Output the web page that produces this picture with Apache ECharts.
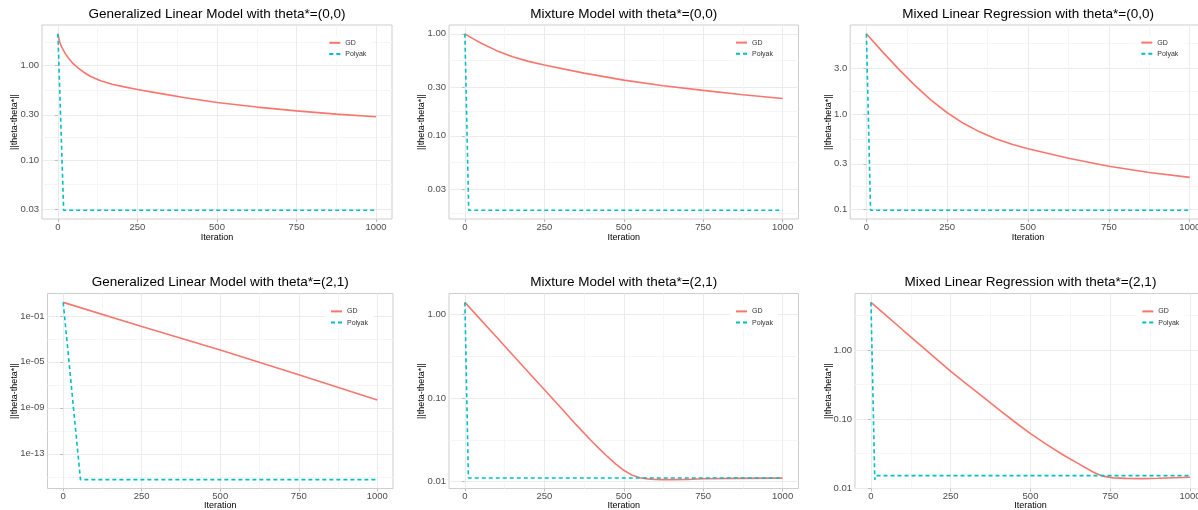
<!DOCTYPE html>
<html><head><meta charset="utf-8">
<script src="https://cdn.jsdelivr.net/npm/echarts@6/dist/echarts.min.js"></script>
<style>html,body{margin:0;padding:0;background:#fff}#c{width:1198px;height:510px}</style>
</head><body><div id="c"></div>
<script>
// ---------------- data ----------------
const titles = [
  'Generalized Linear Model with theta*=(0,0)',
  'Mixture Model with theta*=(0,0)',
  'Mixed Linear Regression with theta*=(0,0)',
  'Generalized Linear Model with theta*=(2,1)',
  'Mixture Model with theta*=(2,1)',
  'Mixed Linear Regression with theta*=(2,1)'
];
const seriesNames = ['GD', 'Polyak'];
const xName = 'Iteration';
const yName = '||theta-theta*||';
const xTicks = [0, 250, 500, 750, 1000];
const xMinor = [125, 375, 625, 875];

// Panel 1: GLM theta*=(0,0)
const glm00GDIter = [0, 5, 10, 22, 35, 48, 65, 79, 100, 132, 170, 205, 250, 320, 400, 500, 625, 750, 875, 1000];
const glm00GD     = [2.15, 1.80, 1.60, 1.35, 1.17, 1.04, 0.93, 0.855, 0.77, 0.69, 0.632, 0.595, 0.555, 0.505, 0.455, 0.405, 0.362, 0.33, 0.305, 0.286];
const glm00PIter  = [0, 18, 1000];
const glm00P      = [2.15, 0.0295, 0.0295];
// Panel 2: Mixture theta*=(0,0)
const mix00GDIter = [0, 25, 50, 100, 150, 200, 250, 375, 500, 625, 750, 875, 1000];
const mix00GD     = [1.0, 0.897, 0.813, 0.684, 0.596, 0.537, 0.494, 0.412, 0.352, 0.310, 0.279, 0.253, 0.232];
const mix00PIter  = [0, 12, 1000];
const mix00P      = [1.0, 0.0187, 0.0187];
// Panel 3: MLR theta*=(0,0)
const mlr00GDIter = [0, 50, 100, 150, 200, 250, 300, 350, 400, 450, 500, 625, 750, 875, 1000];
const mlr00GD     = [6.95, 4.49, 2.96, 2.0, 1.40, 1.03, 0.798, 0.649, 0.550, 0.481, 0.431, 0.342, 0.283, 0.243, 0.216];
const mlr00PIter  = [0, 13, 1000];
const mlr00P      = [6.95, 0.0976, 0.0976];
// Panel 4: GLM theta*=(2,1)
const glm21GDIter = [0, 250, 500, 750, 1000];
const glm21GD     = [1.5, 1.2e-2, 1.1e-4, 7.5e-7, 4.9e-9];
const glm21PIter  = [0, 55, 1000];
const glm21P      = [1.5, 5.7e-16, 5.7e-16];
// Panel 5: Mixture theta*=(2,1)
const mix21GDIter = [0, 100, 200, 300, 350, 400, 425, 450, 475, 500, 525, 550, 575, 600, 625, 650, 700, 750, 850, 1000];
const mix21GD     = [1.40, 0.535, 0.204, 0.078, 0.048, 0.0302, 0.0243, 0.0197, 0.0162, 0.01365, 0.0120, 0.01109, 0.01076, 0.01059, 0.01054, 0.01054, 0.0106, 0.0108, 0.0109, 0.0110];
const mix21PIter  = [0, 11, 1000];
const mix21P      = [1.40, 0.01104, 0.01104];
// Panel 6: MLR theta*=(2,1)
const mlr21GDIter = [0, 50, 100, 150, 200, 250, 300, 350, 400, 450, 500, 550, 600, 650, 700, 730, 760, 800, 850, 900, 1000];
const mlr21GD     = [4.88, 3.08, 1.94, 1.225, 0.773, 0.488, 0.32, 0.21, 0.138, 0.091, 0.0614, 0.0427, 0.0305, 0.0225, 0.0166, 0.0147, 0.0140, 0.01375, 0.01365, 0.0138, 0.0143];
const mlr21PIter  = [0, 12, 16, 1000];
const mlr21P      = [4.88, 0.0132, 0.0151, 0.0151];

// y tick values / labels
const yTicksA  = [0.03, 0.1, 0.3, 1];      const yLabelsA = ['0.03', '0.10', '0.30', '1.00'];
const yMinorA1 = [0.0548, 0.173, 0.548, 1.732];
const yMinorA2 = [0.0173, 0.0548, 0.173, 0.548];
const yTicksB  = [0.1, 0.3, 1, 3];         const yLabelsB = ['0.1', '0.3', '1.0', '3.0'];
const yMinorB  = [0.173, 0.548, 1.732, 5.477];
const yTicksC  = [1e-13, 1e-9, 1e-5, 1e-1]; const yLabelsC = ['1e-13', '1e-09', '1e-05', '1e-01'];
const yMinorC  = [1e-15, 1e-11, 1e-7, 1e-3];
const yTicksD  = [0.01, 0.1, 1];           const yLabelsD = ['0.01', '0.10', '1.00'];
const yMinorD1 = [0.03162, 0.3162];
const yMinorD2 = [0.03162, 0.3162, 3.162];

// ---------------- layout ----------------
const panels = [
  {gdI: glm00GDIter, gd: glm00GD, pI: glm00PIter, p: glm00P, yt: yTicksA, yl: yLabelsA, ym: yMinorA1,
   grid: {left: 42, top: 25, width: 350, height: 194}, leg: [328.3, 43.7], yNameX: 14, xNameY: 237.7},
  {gdI: mix00GDIter, gd: mix00GD, pI: mix00PIter, p: mix00P, yt: yTicksA, yl: yLabelsA, ym: yMinorA2,
   grid: {left: 449, top: 25, width: 349.5, height: 194}, leg: [735, 43.5], yNameX: 420.7, xNameY: 237.7},
  {gdI: mlr00GDIter, gd: mlr00GD, pI: mlr00PIter, p: mlr00P, yt: yTicksB, yl: yLabelsB, ym: yMinorB,
   grid: {left: 850.2, top: 25, width: 355.7, height: 194}, leg: [1140.3, 43.5], yNameX: 828, xNameY: 237.7},
  {gdI: glm21GDIter, gd: glm21GD, pI: glm21PIter, p: glm21P, yt: yTicksC, yl: yLabelsC, ym: yMinorC,
   grid: {left: 47.5, top: 293.5, width: 345.5, height: 195}, leg: [330, 312.3], yNameX: 14, xNameY: 506},
  {gdI: mix21GDIter, gd: mix21GD, pI: mix21PIter, p: mix21P, yt: yTicksD, yl: yLabelsD, ym: yMinorD1,
   grid: {left: 449, top: 293.5, width: 349.5, height: 195}, leg: [735, 312.3], yNameX: 420.7, xNameY: 506},
  {gdI: mlr21GDIter, gd: mlr21GD, pI: mlr21PIter, p: mlr21P, yt: yTicksD, yl: yLabelsD, ym: yMinorD2,
   grid: {left: 855, top: 293.5, width: 351, height: 195}, leg: [1141.3, 312.3], yNameX: 828, xNameY: 506}
];

const FONT = '"Liberation Sans", Arial, Helvetica, sans-serif';
const RED = '#F8766D', TEAL = '#00BFC4';
const BORDER = '#CDCDCD', MAJOR = '#EBEBEB', MINOR = '#F5F5F5', TICK = '#BDBDBD';

function yRange(pn) {
  const all = pn.gd.concat(pn.p);
  const lo = Math.log10(Math.min(...all)), hi = Math.log10(Math.max(...all));
  const span = hi - lo;
  return [Math.pow(10, lo - 0.05 * span), Math.pow(10, hi + 0.05 * span)];
}

const grid = [], xAxis = [], yAxis = [], series = [], legend = [], title = [];
panels.forEach((pn, i) => {
  const [yMin, yMax] = yRange(pn);
  grid.push(Object.assign({show: true, borderColor: BORDER, borderWidth: 1, backgroundColor: 'transparent',
    containLabel: false, outerBoundsMode: 'none'}, pn.grid));
  title.push({text: titles[i], left: pn.grid.left + pn.grid.width / 2, top: pn.grid.top - 18, textAlign: 'center', padding: 0,
    textStyle: {fontFamily: FONT, fontSize: 13.5, fontWeight: 'normal', color: '#000'}});
  const gb = pn.grid.top + pn.grid.height;
  xAxis.push({type: 'value', gridIndex: i, min: -50, max: 1050, position: 'bottom',
    name: xName, nameLocation: 'middle', nameGap: pn.xNameY - gb - 5, nameMoveOverlap: false,
    nameTextStyle: {fontFamily: FONT, fontSize: 9, color: '#000'},
    axisLine: {show: false},
    axisTick: {show: true, length: 3, customValues: xTicks, lineStyle: {color: TICK}},
    axisLabel: {customValues: xTicks, fontFamily: FONT, fontSize: 9.5, color: '#4D4D4D', margin: 3, formatter: v => String(v)},
    splitLine: {show: true, lineStyle: {color: MAJOR, width: 1}}});
  const labels = pn.yl, ticks = pn.yt;
  yAxis.push({type: 'log', gridIndex: i, min: yMin, max: yMax, position: 'left',
    name: yName, nameLocation: 'middle', nameRotate: 90, nameGap: pn.grid.left - pn.yNameX - 5, nameMoveOverlap: false,
    nameTextStyle: {fontFamily: FONT, fontSize: 9, color: '#000'},
    axisLine: {show: false},
    axisTick: {show: true, length: 3, customValues: ticks, lineStyle: {color: TICK}},
    axisLabel: {customValues: ticks, fontFamily: FONT, fontSize: 9.5, color: '#4D4D4D', margin: 3,
      formatter: v => { let best = 0, bd = Infinity; ticks.forEach((t, k) => { const d = Math.abs(Math.log10(t) - Math.log10(v)); if (d < bd) { bd = d; best = k; } }); return labels[best]; }},
    splitLine: {show: true, lineStyle: {color: MAJOR, width: 1}}});
  series.push({name: seriesNames[0], type: 'line', xAxisIndex: i, yAxisIndex: i, symbol: 'none',
    data: pn.gdI.map((t, k) => [t, pn.gd[k]]),
    lineStyle: {color: RED, width: 1.6}, itemStyle: {color: RED}, z: 3});
  series.push({name: seriesNames[1], type: 'line', xAxisIndex: i, yAxisIndex: i, symbol: 'none',
    data: pn.pI.map((t, k) => [t, pn.p[k]]),
    lineStyle: {color: TEAL, width: 1.6, type: [4, 3]}, itemStyle: {color: TEAL}, z: 4});
  legend.push({data: seriesNames, orient: 'vertical', left: pn.leg[0] - 5, top: pn.leg[1] - 4.5 - 3,
    itemWidth: 11, itemHeight: 9, itemGap: 4, padding: [3, 5], backgroundColor: '#fff',
    itemStyle: {color: 'rgba(0,0,0,0)', borderWidth: 0, opacity: 0},
    selectedMode: false, textStyle: {fontFamily: FONT, fontSize: 7, color: '#333'}});
});
// minor grid axes
panels.forEach((pn, i) => {
  const [yMin, yMax] = yRange(pn);
  xAxis.push({type: 'value', gridIndex: i, min: -50, max: 1050, position: 'top',
    axisLine: {show: false}, axisTick: {show: false, customValues: xMinor}, axisLabel: {show: false},
    splitLine: {show: true, lineStyle: {color: MINOR, width: 1}}});
  yAxis.push({type: 'log', gridIndex: i, min: yMin, max: yMax, position: 'right',
    axisLine: {show: false}, axisTick: {show: false, customValues: pn.ym}, axisLabel: {show: false},
    splitLine: {show: true, lineStyle: {color: MINOR, width: 1}}});
});

const chart = echarts.init(document.getElementById('c'), null, {renderer: 'canvas'});
chart.setOption({animation: false, backgroundColor: '#fff', title, grid, xAxis, yAxis, series, legend});
</script></body></html>
